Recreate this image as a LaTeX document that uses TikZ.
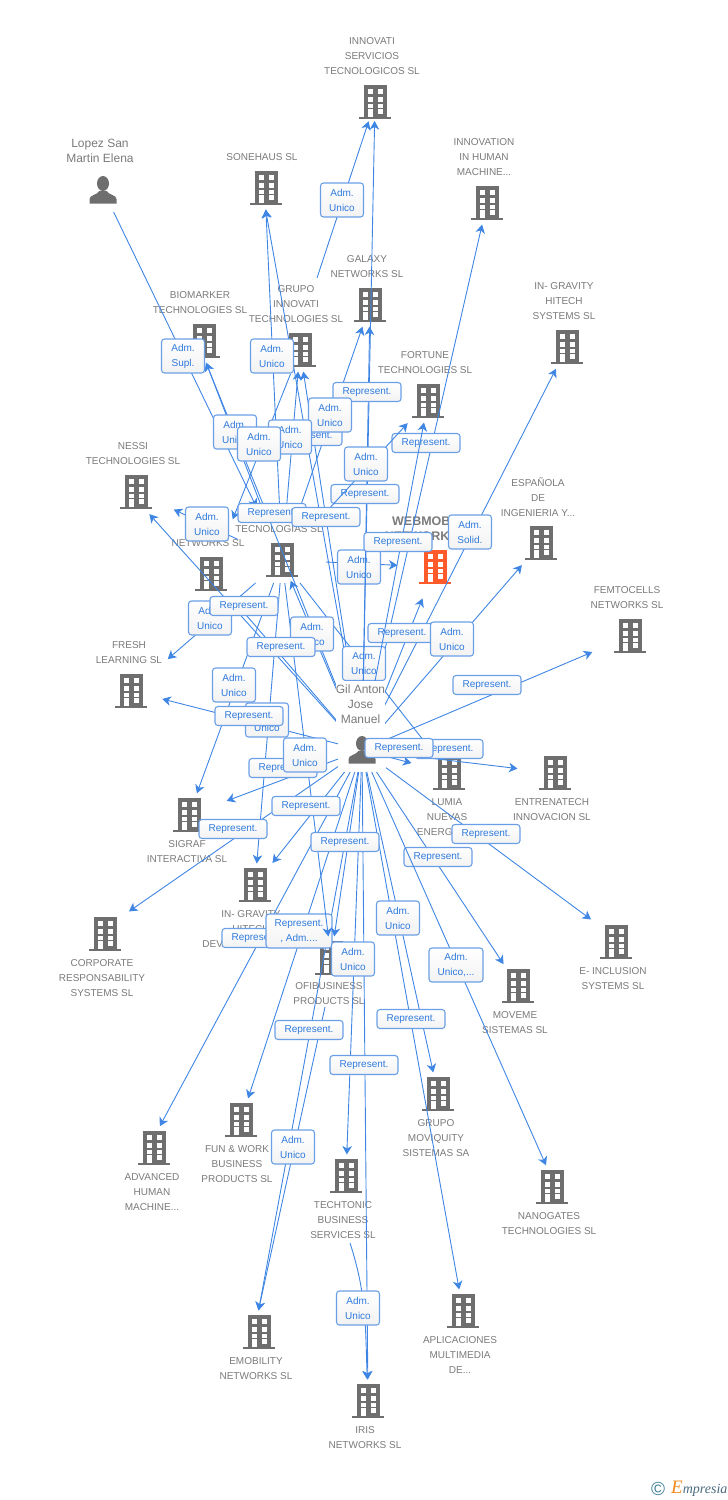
\documentclass[tikz,border=0pt]{standalone}
\usepackage{fontspec}
\setmainfont{Liberation Sans}
\newfontfamily\logofont{Liberation Serif}
\usetikzlibrary{arrows.meta}
\definecolor{iconcol}{HTML}{6E6E6E}
\definecolor{maincol}{HTML}{FF5A2A}
\definecolor{lblcol}{HTML}{7A7A7A}
\definecolor{linkcol}{HTML}{3F86E4}
\definecolor{tagline}{HTML}{6A9FE8}
\definecolor{tagtext}{HTML}{2F7ADD}
\definecolor{logoteal}{HTML}{3F7F9A}
\definecolor{logoink}{HTML}{4A6A80}
\definecolor{logoorange}{HTML}{F08A1E}
\tikzset{
  bldg/.style={shape=rectangle,inner sep=0pt,outer sep=0pt,minimum width=80pt,minimum height=48pt},
  person/.style={shape=rectangle,inner sep=0pt,outer sep=0pt,minimum width=48pt,minimum height=44pt},
  lbl/.style={align=center,inner sep=0pt,text=lblcol,font=\fontsize{10}{15}\selectfont},
  namelbl/.style={lbl,font=\fontsize{12}{15}\selectfont},
  link/.style={draw=linkcol,line width=0.9pt,shorten >=-2.5pt,-{Stealth[length=8.5pt,width=9.5pt,inset=2.5pt]}},
  hubup/.style={shorten <=32pt},
  tagbox/.style={draw=tagline,line width=1.1pt,rounded corners=3pt,top color=white,bottom color=black!5,
    inner sep=0pt,align=center,text=tagtext,font=\fontsize{10}{15}\selectfont},
  admbox/.style={tagbox,minimum width=43pt,minimum height=34pt},
  widebox/.style={tagbox,minimum width=54pt,minimum height=34pt},
  repbox/.style={tagbox,minimum width=68pt,minimum height=19pt},
  bldgicon/.pic={
    \fill[#1] (-11,-17) rectangle (11.5,14.5);
    \fill[#1] (-16,14.5) rectangle (16,17);
    \foreach \wy in {-12.7,-5,1.7} {
      \fill[white] (-6.7,\wy) rectangle (-1.7,\wy+4.6);
      \fill[white] (3.3,\wy) rectangle (8,\wy+4.6);
    }
    \fill[white] (-6.7,7.3) rectangle (-1.7,14.5);
    \fill[white] (3.3,7.3) rectangle (8,11.7);
  },
  personicon/.pic={
    \fill[iconcol] (0,-6.5) ellipse (6 and 7.5);
    \fill[iconcol] (-13.5,13.5) -- (-13.5,9) .. controls (-13.5,5) and (-6,5) .. (-3.5,1)
      -- (3.5,1) .. controls (6,5) and (13.5,5) .. (13.5,9) -- (13.5,13.5) -- cycle;
  }
}
\begin{document}
\begin{tikzpicture}[x=1pt,y=-1pt]
\useasboundingbox (0,0) rectangle (728,1500);
% companies
\foreach \nm/\x/\y in {inno/375/102,sone/266/188,humanm/487/203,galaxy/370/305,gravsys/567/347,grupo/300/350,
  biom/204/341,fortune/428/401,nessi/136/492,espa/541/543,netw/211/574,femto/630/636,fresh/131/691,lumia/449/773,
  entre/555/773,sigraf/189/815,gravdev/255/885,corp/105/934,inclu/616/942,ofi/331/958,moveme/518/986,moviq/438/1094,
  fun/241/1120,advan/154/1148,techt/346/1176,nano/552/1187,emob/259/1332,aplic/463/1311,iris/368/1401} {
  \node[bldg] (\nm) at (\x,\y) {};
  \path (\nm) pic {bldgicon=iconcol};
}
\node[bldg] (web) at (435,567) {};
\path (web) pic {bldgicon=maincol};
\node[bldg,minimum width=88pt,minimum height=46pt] (hub) at (282,560) {};
\path (hub) pic {bldgicon=iconcol};
\node[person] (lopez) at (103,190) {};
\path (lopez) pic {personicon};
\node[person] (gil) at (362,750) {};
\path (gil) pic {personicon};
% texts
\foreach \nm/\x/\y/\txt in {
  inno/372/56/{INNOVATI\\SERVICIOS\\TECNOLOGICOS SL},
  sone/262/157/{SONEHAUS SL},
  humanm/484/157/{INNOVATION\\IN HUMAN\\MACHINE...},
  galaxy/367/266.5/{GALAXY\\NETWORKS SL},
  gravsys/564/301/{IN- GRAVITY\\HITECH\\SYSTEMS SL},
  grupo/296/304/{GRUPO\\INNOVATI\\TECHNOLOGIES SL},
  biom/200/302.5/{BIOMARKER\\TECHNOLOGIES SL},
  fortune/425/362.5/{FORTUNE\\TECHNOLOGIES SL},
  nessi/133/453.5/{NESSI\\TECHNOLOGIES SL},
  espa/538/497/{ESPAÑOLA\\DE\\INGENIERIA Y...},
  hub/279/529/{TECNOLOGIAS SL},
  netw/208/535.5/{\hphantom{MOBILE}L\\NETWORKS SL},
  femto/627/597.5/{FEMTOCELLS\\NETWORKS SL},
  fresh/129/652.5/{FRESH\\LEARNING SL},
  lumia/447/817/{LUMIA\\NUEVAS\\ENERGIA\hphantom{S...}},
  entre/552/809.5/{ENTRENATECH\\INNOVACION SL},
  sigraf/187/851.5/{SIGRAF\\INTERACTIVA SL},
  gravdev/251/929/{IN- GRAVITY\\HITECH\\DEV\hphantom{ELOPMENTS SL}},
  corp/102/978/{CORPORATE\\RESPONSABILITY\\SYSTEMS SL},
  inclu/613/978.5/{E- INCLUSION\\SYSTEMS SL},
  ofi/329/993.5/{OFIBUSINESS\\PRODUCTS SL},
  moveme/515/1022.5/{MOVEME\\SISTEMAS SL},
  moviq/436/1138/{GRUPO\\MOVIQUITY\\SISTEMAS SA},
  fun/237/1164/{FUN \& WORK\\BUSINESS\\PRODUCTS  SL},
  advan/152/1192/{ADVANCED\\HUMAN\\MACHINE...},
  techt/343/1220/{TECHTONIC\\BUSINESS\\SERVICES SL},
  nano/549/1223.5/{NANOGATES\\TECHNOLOGIES SL},
  emob/256/1368.5/{EMOBILITY\\NETWORKS SL},
  aplic/460/1355/{APLICACIONES\\MULTIMEDIA\\DE...},
  iris/365/1437.5/{IRIS\\NETWORKS SL}} {
  \node[lbl] (\nm lbl) at (\x,\y) {\txt};
}
\node[namelbl] (lopezlbl) at (100,150.5) {Lopez San\\Martin Elena};
\node[lbl,font=\fontsize{12.5}{15}\bfseries\selectfont] (weblbl) at (431,528.5) {WEBMOBILE\\NETWORKS SL};
% free ends
\coordinate (gruout) at (317,278);
\coordinate (ofiout) at (325,1007);
\coordinate (techout) at (350,1243);
% links under the first boxes
\foreach \src/\tgt in {gil/grupo,gil/humanm,gil/gravsys,gil/espa,gil/femto,gil/entre,gil/lumia,
  gil/hub,gil/netw,gil/sigraf,gil/gravdev,gil/fun,gil/iris,gil/techt,
  gil/moviq,gil/aplic,gil/moveme,hub/web,hub/lumia,hub/nessi,hub/sigraf,hub/gravdev} {
  \draw[link] (\src) -- (\tgt);
}
\foreach \tgt in {grupo,galaxy} {
  \draw[link,hubup] (hub) -- (\tgt);
}
\draw[link] (gil) -- (sone.south);
\draw[link,hubup] (hub) -- (sone.south);
\draw[link] (gil) -- ([xshift=3pt]biom.south);
\draw[link,hubup] (hub) -- ([xshift=3pt]biom.south);
\draw[link] (gil) -- ([xshift=15pt]nessi.south);
\draw[link] (gil) -- ([xshift=26pt]corp.north);
\draw[link] (gil) -- ([xshift=7pt]advan.north);
\draw[link] (gil) -- ([xshift=-27pt]inclu.north);
\draw[link] (gil) -- (emob.north);
\draw[link] (ofiout) -- (emob.north);
\draw[link,shorten >=8pt] (gil) -- (web);
\draw[link,shorten >=-9pt] (gil) -- (fresh);
\draw[link,shorten >=12pt] (hub) -- (fresh);
\draw[link,shorten >=-5pt] (gruout) -- (inno);
\draw[link,shorten >=33pt] (lopez) -- (hub);
\draw[link,shorten >=33pt] (grupo) -- (netw);
\draw[link] (techout) to[out=-72,in=92] (iris);
% first boxes
\node[admbox] (tagweb) at (359,567) {Adm.\\Unico};
\node[admbox] (taglumia) at (364,663.5) {Adm.\\Unico};
\node[repbox] (taggilweb) at (402,633) {Represent.};
\node[repbox] (taghuman) at (426,443) {Represent.};
\node[repbox] (tagmoveme) at (438,857) {Represent.};
\node[repbox] (tagadvan) at (256,938) {Represent.};
\node[admbox,minimum width=66pt] (tagfun) at (299,931) {Represent.\\, Adm....};
% links over them
\foreach \src/\tgt in {gil/galaxy,gil/fortune,gil/ofi,hub/ofi} {
  \draw[link] (\src) -- (\tgt);
}
\draw[link] (gil) -- ([xshift=-7pt]nano.north);
\draw[link,shorten >=-5pt] (gil) -- (inno);
% other boxes
\node[admbox] (tagsupl) at (183,356) {Adm.\\Supl.};
\node[admbox] (tagsone) at (272,356) {Adm.\\Unico};
\node[admbox] (taginno) at (342,200) {Adm.\\Unico};
\node[repbox] (taggilinno) at (367,392) {Represent.};
\node[repbox] (taggilsone) at (308,436) {Represent.};
\node[admbox] (taggalaxy) at (330,415) {Adm.\\Unico};
\node[admbox] (taggrupo) at (290,437) {Adm.\\Unico};
\node[admbox] (tagbiom) at (235,432) {Adm.\\Unico};
\node[admbox] (tagnetw) at (259,444) {Adm.\\Unico};
\node[repbox] (taggilgalaxy) at (365,494) {Represent.};
\draw[link,hubup] (hub) -- (fortune);
\node[admbox] (tagfortune) at (366,464) {Adm.\\Unico};
\node[repbox] (taggilbiom) at (272,513) {Represent.};
\node[repbox] (taggilgrupo) at (326,517) {Represent.};
\node[admbox] (tagnessi) at (207,524) {Adm.\\Unico};
\node[admbox] (tagsolid) at (470,532) {Adm.\\Solid.};
\node[repbox] (taggilfort) at (398,542) {Represent.};
\node[admbox] (tagfresh) at (210,618) {Adm.\\Unico};
\node[repbox] (taggilnessi) at (244,606) {Represent.};
\node[admbox] (taggilhub) at (312,634) {Adm.\\Unico};
\node[repbox] (taggilnetw) at (281,647) {Represent.};
\node[admbox] (tagespa) at (452,639) {Adm.\\Unico};
\node[repbox] (tagfemto) at (487,685) {Represent.};
\node[admbox] (tagsigraf) at (234,685) {Adm.\\Unico};
\node[admbox] (taggravdev) at (267,720) {Adm.\\Unico};
\node[repbox] (taggilfresh) at (249,716) {Represent.};
\node[repbox] (taggilsigraf) at (283,768) {Represent.};
\node[admbox] (tagofi) at (305,755) {Adm.\\Unico};
\node[repbox] (tagentre) at (449,749) {Represent.};
\node[repbox] (taggillumia) at (399,748) {Represent.};
\node[repbox] (taggilgrav) at (306,806) {Represent.};
\node[repbox] (tagcorp) at (233,829) {Represent.};
\node[repbox] (taggilofi) at (345,842) {Represent.};
\node[repbox] (taginclu) at (486,834) {Represent.};
\node[admbox] (tagmoviq) at (398,918) {Adm.\\Unico};
\node[admbox] (tagtecht) at (353,959) {Adm.\\Unico};
\node[widebox] (tagnano) at (456,965) {Adm.\\Unico,...};
\node[repbox] (tagaplic) at (411,1019) {Represent.};
\node[repbox] (taggilemob) at (309,1030) {Represent.};
\node[repbox] (tagiris) at (364,1065) {Represent.};
\node[admbox] (tagemob) at (293,1147) {Adm.\\Unico};
\node[admbox] (tagtechiris) at (358,1308) {Adm.\\Unico};
% name of the person sits on the clean-up patch
\node[namelbl,fill=white,minimum width=49pt,minimum height=47pt] (gillbl) at (360.5,704.5) {Gil Anton\\Jose\\Manuel};
% logo
\node[inner sep=0pt,text=logoteal,font=\fontsize{19}{19}\selectfont] (logoc) at (658,1489) {©};
\node[inner sep=0pt,anchor=west,text=logoink,font=\logofont\itshape\fontsize{14}{14}\selectfont] (logotxt) at (671,1489)
  {{\color{logoorange}\fontsize{19}{19}\selectfont E}mpresia};
\end{tikzpicture}
\end{document}
